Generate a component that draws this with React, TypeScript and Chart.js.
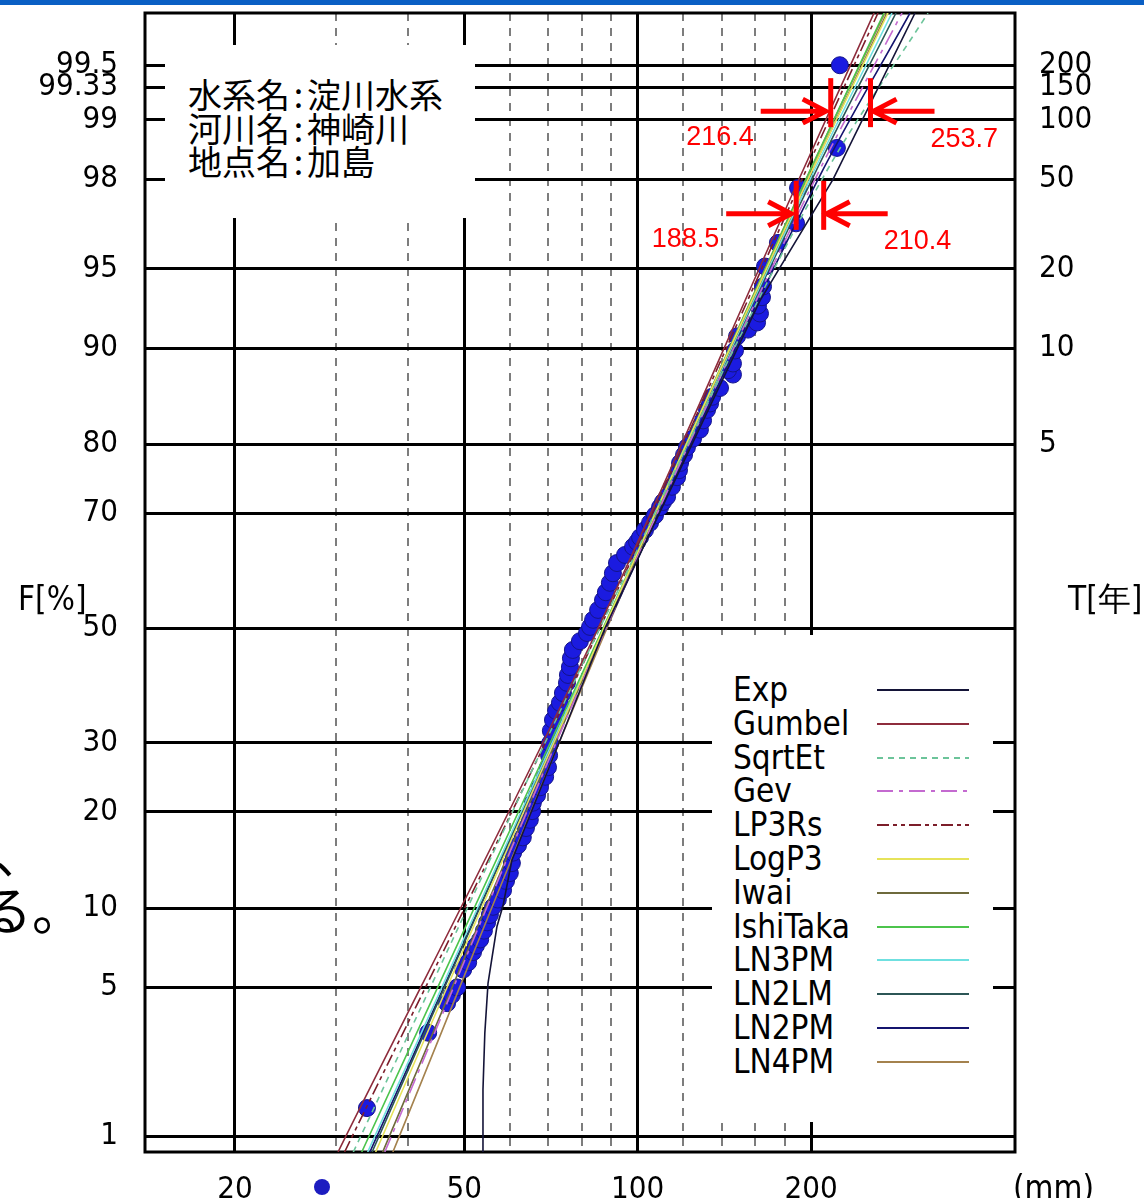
import React, { useEffect, useRef } from 'react';
import { Chart, registerables } from 'chart.js';

Chart.register(...registerables);

// ---------------- data ----------------
const X_MIN = 13.96;
const X_MAX = 452;
const F_MIN = 0.824;
const F_MAX = 99.756;

const X_MAJOR = [20, 50, 100, 200];
const X_MINOR = [30, 40, 60, 70, 80, 90, 120, 140, 160, 180];

const F_TICKS = [1, 5, 10, 20, 30, 50, 70, 80, 90, 95, 98, 99, 99.333, 99.5];
const F_LABELS = ['1', '5', '10', '20', '30', '50', '70', '80', '90', '95', '98', '99', '99.33', '99.5'];
const T_TICKS = [5, 10, 20, 50, 100, 150, 200];
const T_LABELS = ['5', '10', '20', '50', '100', '150', '200'];

// observed annual maxima (mm) and plotting positions (non-exceedance %)
const OBS_MM = [33.9, 43.3, 46.7, 47.6, 48.6, 49.8, 50.8, 51.8, 52.4, 53.3, 54.1, 54.8, 55.4, 56.1, 57.2, 58.4, 59.1, 60.0, 60.5, 60.8, 62.0, 63.2, 64.0, 65.0, 65.6, 65.8, 66.9, 67.7, 69.1, 69.9, 70.2, 70.5, 70.7, 71.3, 72.2, 73.3, 74.2, 75.4, 75.7, 76.3, 76.6, 77.2, 79.4, 81.7, 82.7, 83.7, 85.4, 87.1, 88.1, 89.5, 90.6, 92.1, 95.1, 98.2, 99.8, 101.0, 103.0, 105.1, 107.2, 109.4, 110.7, 112.5, 114.7, 117.1, 118.0, 118.5, 120.4, 121.8, 124.8, 128.3, 129.9, 132.0, 133.6, 134.7, 139.0, 146.4, 143.5, 146.4, 147.6, 148.8, 155.5, 161.2, 163.1, 161.8, 164.4, 165.1, 166.4, 175.2, 188.4, 189.9, 221.8, 224.4];
const OBS_F = [1.4, 3.2, 4.3, 4.65, 5.0, 5.9, 6.3, 6.9, 7.3, 7.7, 8.3, 8.9, 9.45, 10.1, 10.7, 11.5, 12.35, 13.1, 14.1, 15.2, 16.0, 16.9, 18.0, 19.0, 20.1, 21.2, 22.2, 23.3, 24.8, 26.2, 28.0, 29.9, 31.9, 33.7, 35.2, 36.6, 38.3, 40.1, 41.5, 42.9, 44.5, 46.0, 47.6, 49.1, 50.2, 51.5, 53.3, 55.1, 56.5, 58.2, 59.9, 61.7, 63.1, 64.5, 65.3, 66.1, 67.3, 68.5, 69.7, 71.0, 71.8, 72.6, 74.1, 75.5, 76.5, 77.5, 78.6, 79.6, 80.7, 81.8, 82.9, 84.1, 84.8, 85.5, 86.4, 87.7, 88.1, 88.7, 89.8, 90.9, 91.4, 91.9, 92.5, 93.0, 93.5, 94.1, 95.1, 96.1, 96.8, 97.8, 98.6, 99.5];

// fitted distributions: rainfall (mm) at the non-exceedance levels in FIT_F
const FIT_F = [0.824, 50, 98, 99.756];
const EXP_F = [0.824, 1.73, 3.19, 5.2, 6.6, 8.6, 10.2, 14.4, 50, 93.3, 98, 99.756];
const EXP_MM = [53.7, 53.9, 54.3, 55.0, 55.9, 57.0, 58.4, 60.5, 87.8, 163.1, 218.4, 303.1];
const GUMBEL_MM = [30.2, 85.4, 190.6, 257.3];
const SQRTET_MM = [32.1, 86.0, 209.0, 319.2];
const GEV_MM = [36.4, 88.1, 203.2, 287.7];
const LP3RS_MM = [31.0, 86.0, 192.9, 261.4];
const LOGP3_MM = [35.1, 87.4, 197.6, 272.1];
const IWAI_MM = [36.1, 87.8, 197.6, 271.0];
const ISHITAKA_MM = [33.2, 87.1, 196.0, 267.8];
const LN3PM_MM = [34.0, 87.4, 199.2, 276.4];
const LN2LM_MM = [34.6, 87.4, 200.8, 280.9];
const LN2PM_MM = [34.3, 88.1, 205.7, 297.1];
const LN4PM_MM = [37.6, 88.5, 196.0, 268.8];

const LINE_NAMES = ['Exp', 'Gumbel', 'SqrtEt', 'Gev', 'LP3Rs', 'LogP3', 'Iwai', 'IshiTaka', 'LN3PM', 'LN2LM', 'LN2PM', 'LN4PM'];
const LINE_MM = [EXP_MM, GUMBEL_MM, SQRTET_MM, GEV_MM, LP3RS_MM, LOGP3_MM, IWAI_MM, ISHITAKA_MM, LN3PM_MM, LN2LM_MM, LN2PM_MM, LN4PM_MM];
const LINE_COLORS = ['#141438', '#8e2c3c', '#6cc49a', '#c46ad0', '#7c1e2a', '#e6e35a', '#6e6a3c', '#4cc44c', '#6fe0e0', '#2c5656', '#14146e', '#a4824e'];
const LINE_DASHES: number[][] = [[], [], [6, 5], [16, 6, 4, 6], [12, 4, 4, 4, 4, 4], [], [], [], [], [], [], []];

// red annotations: estimates (mm) at probability levels
const ANN_VALUES = [216.4, 253.7, 188.5, 210.4];
const ANN_LABELS = ['216.4', '253.7', '188.5', '210.4'];
const ANN_LEVEL_F = [99.1, 99.1, 97.1, 97.1];
const ANN_SIDE = ['left', 'right', 'left', 'right'];

const INFO_LINES = [['水系名', '淀川水系'], ['河川名', '神崎川'], ['地点名', '加島']];

// ---------------- helpers ----------------
function probit(p: number): number {
  const a = [-3.969683028665376e1, 2.209460984245205e2, -2.759285104469687e2, 1.38357751867269e2, -3.066479806614716e1, 2.506628277459239];
  const b = [-5.447609879822406e1, 1.615858368580409e2, -1.556989798598866e2, 6.680131188771972e1, -1.328068155288572e1];
  const c = [-7.784894002430293e-3, -3.223964580411365e-1, -2.400758277161838, -2.549732539343734, 4.374664141464968, 2.938163982698783];
  const d = [7.784695709041462e-3, 3.224671290700398e-1, 2.445134137142996, 3.754408661907416];
  const pl = 0.02425;
  const ph = 1 - pl;
  let q: number, r: number;
  if (p < pl) {
    q = Math.sqrt(-2 * Math.log(p));
    return (((((c[0] * q + c[1]) * q + c[2]) * q + c[3]) * q + c[4]) * q + c[5]) / ((((d[0] * q + d[1]) * q + d[2]) * q + d[3]) * q + 1);
  }
  if (p <= ph) {
    q = p - 0.5;
    r = q * q;
    return ((((((a[0] * r + a[1]) * r + a[2]) * r + a[3]) * r + a[4]) * r + a[5]) * q) / (((((b[0] * r + b[1]) * r + b[2]) * r + b[3]) * r + b[4]) * r + 1);
  }
  q = Math.sqrt(-2 * Math.log(1 - p));
  return -(((((c[0] * q + c[1]) * q + c[2]) * q + c[3]) * q + c[4]) * q + c[5]) / ((((d[0] * q + d[1]) * q + d[2]) * q + d[3]) * q + 1);
}
const zOf = (f: number) => probit(f / 100);

const NARROW = "'Liberation Sans Narrow', 'DejaVu Sans Condensed', 'Arial Narrow', sans-serif";
const CJK = "'Noto Sans CJK JP', 'Noto Sans CJK SC', sans-serif";
const TICK_FONT = { family: NARROW, size: 31 };

const framePlugin = {
  id: 'frame',
  beforeDatasetsDraw(chart: any) {
    const { ctx, chartArea: a } = chart;
    ctx.save();
    ctx.strokeStyle = '#000';
    ctx.lineWidth = 3;
    ctx.strokeRect(a.left, a.top, a.right - a.left, a.bottom - a.top);
    ctx.restore();
  },
};

const annotationPlugin = {
  id: 'redNotes',
  afterDatasetsDraw(chart: any) {
    const { ctx } = chart;
    const xs = chart.scales.x;
    const ys = chart.scales.y;
    ctx.save();
    ctx.strokeStyle = '#ff0000';
    ctx.fillStyle = '#ff0000';
    ctx.lineWidth = 5;
    ctx.font = "27px 'Liberation Sans', Arial, sans-serif";
    ctx.textBaseline = 'middle';
    ANN_VALUES.forEach((v, i) => {
      const px = xs.getPixelForValue(v);
      const py = ys.getPixelForValue(zOf(ANN_LEVEL_F[i]));
      ctx.beginPath();
      ctx.moveTo(px, py - 33);
      ctx.lineTo(px, py + 16);
      ctx.stroke();
      const left = ANN_SIDE[i] === 'left';
      const tip = left ? px - 5 : px + 3;
      const tail = left ? px - 70 : px + 64;
      const back = left ? tip - 23 : tip + 23;
      ctx.beginPath();
      ctx.moveTo(tail, py);
      ctx.lineTo(tip, py);
      ctx.moveTo(back, py - 12);
      ctx.lineTo(tip, py);
      ctx.lineTo(back, py + 12);
      ctx.stroke();
      if (left) {
        ctx.textAlign = 'right';
        ctx.fillText(ANN_LABELS[i], px - 77, py + 26);
      } else {
        ctx.textAlign = 'left';
        ctx.fillText(ANN_LABELS[i], px + 60, py + 28);
      }
    });
    ctx.restore();
  },
};

const fixVertical = (w: number) => (s: any) => {
  s.width = w;
  s.paddingTop = 0;
  s.paddingBottom = 0;
};
const fixHorizontal = (h: number) => (s: any) => {
  s.height = h;
  s.paddingLeft = 0;
  s.paddingRight = 0;
};

export default function App() {
  const canvasRef = useRef<HTMLCanvasElement>(null);

  useEffect(() => {
    if (!canvasRef.current) return;
    const obs = OBS_MM.map((x, i) => ({ x, y: zOf(OBS_F[i]) }));
    const fits = LINE_NAMES.map((name, i) => {
      const fs = i === 0 ? EXP_F : FIT_F;
      return {
        label: name,
        data: LINE_MM[i].map((x, j) => ({ x, y: zOf(fs[j]) })),
        showLine: true,
        borderColor: LINE_COLORS[i],
        backgroundColor: LINE_COLORS[i],
        borderDash: LINE_DASHES[i],
        borderWidth: 1.6,
        pointRadius: 0,
        tension: 0,
        cubicInterpolationMode: i === 0 ? 'default' : 'monotone',
        order: 1,
      };
    });
    const chart = new Chart(canvasRef.current, {
      type: 'scatter',
      data: {
        datasets: [
          ...fits,
          {
            label: 'obs',
            data: obs,
            pointRadius: 8.5,
            pointBackgroundColor: '#1b1be0',
            pointBorderColor: '#14148a',
            pointBorderWidth: 1,
            showLine: false,
            order: 5,
          },
        ] as any,
      },
      options: {
        animation: false,
        responsive: false,
        devicePixelRatio: 1,
        events: [],
        layout: { padding: { top: 13, left: 0, right: 0, bottom: 0 } },
        plugins: { legend: { display: false }, tooltip: { enabled: false } },
        scales: {
          x: {
            type: 'logarithmic',
            position: 'bottom',
            min: X_MIN,
            max: X_MAX,
            afterBuildTicks: (s: any) => {
              s.ticks = X_MAJOR.map((v) => ({ value: v }));
            },
            afterFit: fixHorizontal(46),
            ticks: {
              autoSkip: false,
              maxRotation: 0,
              padding: 19,
              font: TICK_FONT,
              color: '#000',
              callback: (v: any) => String(v),
            },
            grid: { color: '#000', lineWidth: 3, drawTicks: false },
            border: { display: false },
          },
          xd: {
            type: 'logarithmic',
            position: 'bottom',
            min: X_MIN,
            max: X_MAX,
            afterBuildTicks: (s: any) => {
              s.ticks = X_MINOR.map((v) => ({ value: v }));
            },
            afterFit: fixHorizontal(0),
            ticks: { display: false },
            grid: { color: '#7d7d7d', lineWidth: 2, drawTicks: false },
            border: { display: false, dash: [8, 7] },
          },
          y: {
            type: 'linear',
            position: 'left',
            min: zOf(F_MIN),
            max: zOf(F_MAX),
            afterBuildTicks: (s: any) => {
              s.ticks = F_TICKS.map((f) => ({ value: zOf(f) }));
            },
            afterFit: fixVertical(145),
            ticks: {
              autoSkip: false,
              padding: 27,
              font: TICK_FONT,
              color: '#000',
              callback: (_v: any, i: number) => F_LABELS[i],
            },
            grid: { color: '#000', lineWidth: 3, drawTicks: false },
            border: { display: false },
          },
          yR: {
            type: 'linear',
            position: 'right',
            min: zOf(F_MIN),
            max: zOf(F_MAX),
            afterBuildTicks: (s: any) => {
              s.ticks = T_TICKS.map((t) => ({ value: zOf(100 * (1 - 1 / t)) }));
            },
            afterFit: fixVertical(129),
            ticks: {
              autoSkip: false,
              padding: 24,
              font: TICK_FONT,
              color: '#000',
              callback: (_v: any, i: number) => T_LABELS[i],
            },
            grid: { drawOnChartArea: false, drawTicks: false },
            border: { display: false },
          },
        },
      } as any,
      plugins: [framePlugin, annotationPlugin],
    });
    return () => chart.destroy();
  }, []);

  const narrowText = { fontFamily: NARROW, fontSize: 33, lineHeight: '34px', color: '#000', whiteSpace: 'nowrap' as const };

  return (
    <div style={{ position: 'absolute', left: 0, top: 0, width: 1144, height: 1198, overflow: 'hidden', background: '#fff' }}>
      <canvas ref={canvasRef} width={1144} height={1198} style={{ position: 'absolute', left: 0, top: 0, width: 1144, height: 1198 }} />
      {/* slide header bar */}
      <div style={{ position: 'absolute', left: 0, top: 0, width: 1144, height: 5, background: '#0a5fc4' }} />
      {/* info box */}
      <div style={{ position: 'absolute', left: 165, top: 45, width: 310, height: 173, background: '#fff', paddingTop: 32, paddingLeft: 23, boxSizing: 'border-box', fontFamily: CJK, fontSize: 34, lineHeight: '33.5px', color: '#000', whiteSpace: 'nowrap' }}>
        {INFO_LINES.map(([k, v]) => (
          <div key={k}>
            {k}
            <span style={{ display: 'inline-block', width: 17, textAlign: 'center' }}>:</span>
            {v}
          </div>
        ))}
      </div>
      {/* legend */}
      <div style={{ position: 'absolute', left: 712, top: 635, width: 281, height: 487, background: '#fff' }} />
      {LINE_NAMES.map((n, i) => {
        const cy = 690 + i * 33.8;
        return (
          <React.Fragment key={n}>
            <div style={{ ...narrowText, position: 'absolute', left: 733, top: cy - 17 }}>{n}</div>
            <svg style={{ position: 'absolute', left: 877, top: cy - 4 }} width={92} height={8}>
              <line x1={0} y1={4} x2={92} y2={4} stroke={LINE_COLORS[i]} strokeWidth={2} strokeDasharray={LINE_DASHES[i].length ? LINE_DASHES[i].join(' ') : undefined} />
            </svg>
          </React.Fragment>
        );
      })}
      {/* axis titles */}
      <div style={{ ...narrowText, position: 'absolute', left: 18, top: 582 }}>F[%]</div>
      <div style={{ ...narrowText, position: 'absolute', left: 1068, top: 582 }}>T[年]</div>
      <div style={{ ...narrowText, position: 'absolute', left: 1013, top: 1171 }}>(mm)</div>
      {/* slide text fragments at the left edge */}
      <div style={{ position: 'absolute', left: -5, top: 828, fontFamily: CJK, fontSize: 48, lineHeight: 1, color: '#000' }}>、</div>
      <div style={{ position: 'absolute', left: -20, top: 882, fontFamily: CJK, fontSize: 52, lineHeight: 1, color: '#000', whiteSpace: 'nowrap' }}>る。</div>
      {/* bullet */}
      <div style={{ position: 'absolute', left: 314, top: 1179, width: 16, height: 16, borderRadius: 8, background: '#1c1cc0' }} />
    </div>
  );
}
